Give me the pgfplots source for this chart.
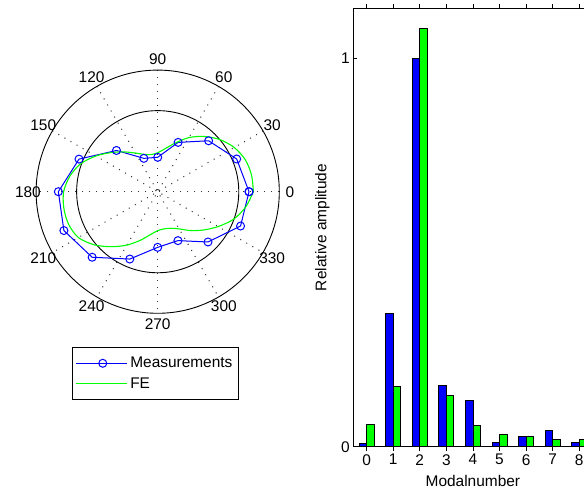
\documentclass[border=0pt]{standalone}
\usepackage{fontspec}
\setmainfont{Liberation Sans}
\usepackage{pgfplots}
\pgfplotsset{compat=1.18}
\definecolor{mblue}{RGB}{0,0,255}
\definecolor{mgreen}{RGB}{0,255,0}
\pgfplotsset{
  every axis/.append style={font=\fontsize{15.5}{18}\selectfont},
  /pgf/number format/assume math mode=true,
}

\begin{document}
\begin{tikzpicture}
\useasboundingbox (0,0) rectangle (584bp,489bp);
\clip (0,0) rectangle (584bp,489bp);

% polar plot (cartesian axis, polar data)
\begin{axis}[
  at={(157.7bp,297.3bp)}, anchor=center,
  width=243.3bp, height=243.3bp, scale only axis,
  xmin=-1.5, xmax=1.5, ymin=-1.5, ymax=1.5,
  hide axis, clip=false,
  legend style={at={(0.149,-0.1397)}, anchor=north west,
    draw=black, line width=0.8bp, inner xsep=2.5bp, inner ysep=7.5bp,
    row sep=4.5bp, nodes={inner xsep=3bp}},
  legend cell align=left,
  legend image code/.code={
    \path (0bp,0bp) -- (51bp,0bp);
    \draw[mark repeat=2,mark phase=2,#1] plot coordinates {(3bp,0bp) (27bp,0bp) (51bp,0bp)};
  },
]
% grid
\pgfplotsinvokeforeach{0,30,60,90,120,150}{
  \draw[black!80, line width=1bp, dash pattern=on 1bp off 6bp]
    (axis cs:{1.5*cos(#1)},{1.5*sin(#1)}) -- (axis cs:{-1.5*cos(#1)},{-1.5*sin(#1)});
}
\draw[black, line width=0.9bp] (axis cs:0,0) circle[radius=81.07bp];
\draw[black, line width=0.9bp] (axis cs:0,0) circle[radius=121.6bp];

\node at (axis cs:1.63,0) {0};
\node at (axis cs:1.4116,0.815) {30};
\node at (axis cs:0.815,1.4116) {60};
\node at (axis cs:0,1.63) {90};
\node at (axis cs:-0.815,1.4116) {120};
\node at (axis cs:-1.4116,0.815) {150};
\node at (axis cs:-1.6,0) {180};
\node at (axis cs:-1.4116,-0.815) {210};
\node at (axis cs:-0.815,-1.4116) {240};
\node at (axis cs:0,-1.63) {270};
\node at (axis cs:0.815,-1.4116) {300};
\node at (axis cs:1.4116,-0.815) {330};

\addplot[mblue, line width=1bp, mark=o, mark size=4bp, data cs=polar]
  coordinates {
  (0,1.126) (22.5,1.054) (45,0.888) (67.5,0.658) (90,0.424) (112.5,0.445)
  (135,0.719) (157.5,1.050) (180,1.225) (202.5,1.252) (225,1.143) (247.5,0.899)
  (270,0.686) (292.5,0.653) (315,0.877) (337.5,1.106) (360,1.126)
  };
\addlegendentry{Measurements}
\addplot[mgreen, line width=1.1bp, smooth, tension=0.5, data cs=polar]
  coordinates {
  (0,1.18) (10,1.175) (20,1.15) (30,1.09) (40,1.00) (50,0.89) (60,0.77)
  (70,0.64) (80,0.54) (90,0.48) (100,0.465) (110,0.49) (120,0.55) (130,0.64)
  (140,0.75) (150,0.88) (160,1.01) (170,1.10) (180,1.16) (190,1.175)
  (200,1.17) (210,1.13) (220,1.02) (230,0.885) (240,0.76) (250,0.64)
  (260,0.54) (270,0.48) (280,0.465) (290,0.48) (300,0.53) (310,0.625)
  (320,0.735) (330,0.86) (340,0.995) (350,1.10) (360,1.18)
  };
\addlegendentry{FE}
\end{axis}

% modal amplitudes
\begin{axis}[
  at={(353.3bp,42.3bp)}, anchor=south west,
  width=239.2bp, height=438.4bp, scale only axis,
  xmin=-0.5, xmax=8.5, ymin=0, ymax=1.1287,
  xtick={0,1,2,3,4,5,6,7,8}, ytick={0,1},
  tick align=inside, major tick length=4bp,
  tick style={black, line width=0.8bp},
  axis line style={black, line width=0.8bp},
  xlabel={Modalnumber}, ylabel={Relative amplitude},
  xlabel style={yshift=-3bp},
  ylabel style={at={(axis description cs:-0.1296,0.5)}, anchor=center},
  ybar, bar width=0.28,
]
\addplot[fill=mblue, draw=black, line width=0.8bp, bar shift=-0.14]
  coordinates {(0,0.009) (1,0.343) (2,1.0) (3,0.157) (4,0.118) (5,0.012) (6,0.026) (7,0.042) (8,0.012)};
\addplot[fill=mgreen, draw=black, line width=0.8bp, bar shift=0.14]
  coordinates {(0,0.058) (1,0.155) (2,1.076) (3,0.131) (4,0.055) (5,0.032) (6,0.026) (7,0.019) (8,0.019)};
\end{axis}
\end{tikzpicture}
\end{document}
